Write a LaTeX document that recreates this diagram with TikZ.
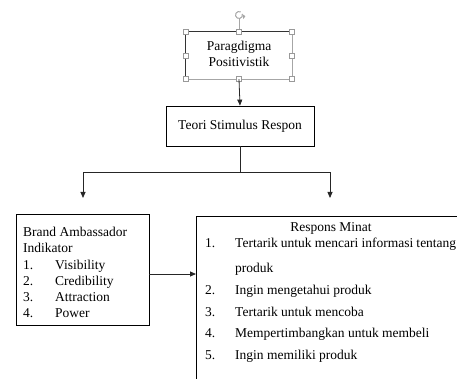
\documentclass[tikz,border=0pt]{standalone}
\usepackage{fontspec}
\setmainfont{Liberation Serif}
\usetikzlibrary{arrows.meta}
\begin{document}
\begin{tikzpicture}[x=1pt,y=-1pt,
  font=\fontsize{13.5}{16}\selectfont,
  box/.style={draw=black,line width=0.8pt,rectangle,inner sep=0pt},
  txt/.style={inner sep=0pt,anchor=base west},
  conn/.style={draw=black!85,line width=0.8pt},
  arr/.style={conn,-{Triangle[length=6pt,width=5pt]}},
  handle/.style={draw=black!40,fill=white,line width=0.5pt,minimum size=5pt,inner sep=0pt,rectangle}]
\useasboundingbox (0,0) rectangle (457,379);

% Paragdigma box (selected)
\node[inner sep=0pt,minimum width=106pt,minimum height=47pt] (para) at (239,55.5) {};
\draw[black!80,line width=0.8pt] (para.south west) -- (para.north west) -- (para.north east);
\draw[black!35,line width=0.6pt] (para.north east) -- (para.south east) -- (para.south west);
\node[inner sep=0pt,anchor=base] (p1) at (239,51) {Paragdigma};
\node[inner sep=0pt,anchor=base] (p2) at (239,67) {Positivistik};
% rotation handle
\coordinate (rot) at (239,15);
\draw[black!35,line width=0.6pt] (para.north) -- (239,19);
\draw[black!35,line width=1pt] ([shift={(60:3.5pt)}]rot) arc[start angle=60,end angle=380,radius=3.5pt];
\fill[black!35] ([shift={(15:3.5pt)}]rot) -- ++(3pt,-2pt) -- ++(-2pt,-3pt) -- cycle;
\foreach \a in {north west,north,north east,east,south east,south,south west,west}
  \node[handle] at (para.\a) {};

% Teori box
\node[box,minimum width=148pt,minimum height=40pt] (teori) at (240,126) {Teori Stimulus Respon};

\draw[arr] (para.south) -- (teori.north);

% split
\coordinate (junc) at (240,172);
\coordinate (la) at (83,198);
\coordinate (ra) at (330,198);
\draw[conn] (teori.south) -- (junc);
\draw[arr] (junc) -| (la);
\draw[arr] (junc) -| (ra);

% Brand box
\node[box,minimum width=133pt,minimum height=111pt] (brand) at (82.5,269.5) {};
\node[txt] (b0) at (23,236) {Brand Ambassador};
\node[txt] (b1) at (23,252) {Indikator};
\node[txt] (b2n) at (23,269) {1.};
\node[txt] (b2) at (55,269) {Visibility};
\node[txt] (b3n) at (23,285) {2.};
\node[txt] (b3) at (55,285) {Credibility};
\node[txt] (b4n) at (23,301) {3.};
\node[txt] (b4) at (55,301) {Attraction};
\node[txt] (b5n) at (23,317) {4.};
\node[txt] (b5) at (55,317) {Power};

% Respons box (open at right and bottom)
\coordinate (resp) at (196,216);
\coordinate (respR) at (458,216);
\coordinate (respB) at (196,380);
\draw[black,line width=0.8pt] (respR) -- (resp) -- (respB);
\coordinate (rin) at (196,274);
\draw[arr] (brand.east |- rin) -- (rin);

\node[inner sep=0pt,anchor=base] (r0) at (331,231) {Respons Minat};
\node[txt] (r1n) at (205,247) {1.};
\node[txt] (r1) at (235,247) {\makebox[221pt][s]{Tertarik untuk mencari informasi tentang}};
\node[txt] (r1b) at (235,272) {produk};
\node[txt] (r2n) at (205,294) {2.};
\node[txt] (r2) at (235,294) {Ingin mengetahui produk};
\node[txt] (r3n) at (205,316) {3.};
\node[txt] (r3) at (235,316) {Tertarik untuk mencoba};
\node[txt] (r4n) at (205,337) {4.};
\node[txt] (r4) at (235,337) {Mempertimbangkan untuk membeli};
\node[txt] (r5n) at (205,359) {5.};
\node[txt] (r5) at (235,359) {Ingin memiliki produk};
\end{tikzpicture}
\end{document}
